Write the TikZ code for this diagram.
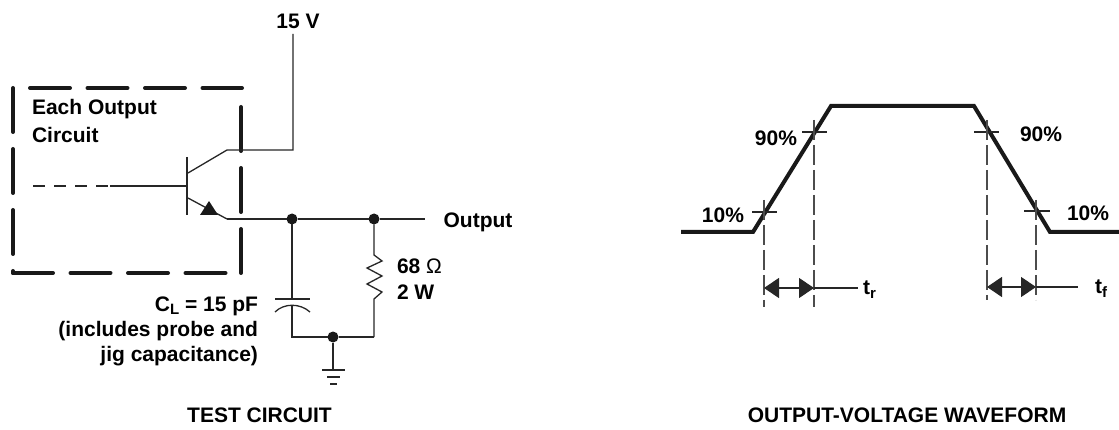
\documentclass[tikz,border=0pt]{standalone}
\usepackage{fontspec}
\setmainfont{Liberation Sans}
\usetikzlibrary{arrows.meta}
\begin{document}
\begin{tikzpicture}[x=1pt,y=-1pt,
  every node/.style={inner sep=0pt,outer sep=0pt,font=\fontsize{21}{26}\selectfont\bfseries},
  wire/.style={line width=1.3pt,black!85},
  boxdash/.style={line width=4pt,black!90,line cap=round},
  wave/.style={line width=4pt,black!90,line join=miter},
  guide/.style={line width=1.2pt,black!70,dash pattern=on 20pt off 5pt},
  tri/.style={{Triangle[length=15pt,width=20pt]}-{Triangle[length=15pt,width=20pt]}},
  dot/.style={circle,fill=black!90,minimum size=11pt,inner sep=0pt}]
\useasboundingbox (0,0) rectangle (1119,430);

% ---------- test circuit ----------
\node (v15) at (298,21) {15 V};
\node[align=left,anchor=west,font=\fontsize{21}{28}\selectfont\bfseries] (each) at (32,121) {Each Output\\Circuit};

% dashed box
\draw[boxdash,dash pattern=on 40pt off 17.5pt] (30,88) -- (242,88);
\draw[boxdash,dash pattern=on 44pt off 17pt] (241,107) -- (241,273);
\draw[boxdash,dash pattern=on 44pt off 17pt] (13,88) -- (13,273);
\draw[boxdash,dash pattern=on 40pt off 17.5pt] (13,273) -- (227,273);

% transistor
\coordinate (vtop) at (293,34);
\coordinate (ccorner) at (293,150);
\coordinate (ck) at (227,150);
\coordinate (cb) at (188,173);
\coordinate (eb) at (188,198);
\coordinate (ek) at (227,219);
\draw[wire] (187,157) -- (187,215);
\draw[wire] (vtop) -- (ccorner) -- (ck) -- (cb);
\draw[wire] (eb) -- (ek);
\fill[black!90] (209,201) -- (218,215) -- (200,215) -- cycle;
\draw[wire] (110,186) -- (187,186);
\draw[wire,dash pattern=on 12pt off 9pt] (33,186) -- (110,186);

% output line and junctions
\node[dot] (j1) at (292,219) {};
\node[dot] (j2) at (374,219) {};
\node (out) at (478,222) {Output};
\coordinate (oend) at (425,219);
\draw[wire] (ek) -- (j1) -- (j2) -- (oend);

% capacitor
\coordinate (ctop) at (292,299);
\coordinate (cbot) at (292,306);
\coordinate (gl) at (292,337);
\coordinate (gr) at (374,337);
\node[dot] (gj) at (333,337) {};
\draw[wire] (j1) -- (ctop);
\draw[wire] (275,299) -- (310,299);
\draw[wire] (275,312) .. controls (284,303) and (300,303) .. (310,312);
\draw[wire] (cbot) -- (gl) -- (gj) -- (gr);

% resistor
\draw[wire,line join=miter] (j2) -- (374,255) -- (382,261) -- (367,268) -- (382,276) -- (367,284) -- (382,292) -- (374,299) -- (gr);
\node[align=left,anchor=west] (rlab) at (397,279) {68 {\mdseries Ω}\\2 W};

% ground
\coordinate (g0) at (333,370);
\draw[wire] (gj) -- (g0);
\draw[wire] (322,370) -- (345,370);
\draw[wire] (327,377) -- (340,377);
\draw[wire] (330,384) -- (337,384);

\node[align=right,anchor=east,font=\fontsize{21}{25}\selectfont\bfseries] (cl) at (258,331)
  {C\raisebox{-0.3ex}{\fontsize{15}{15}\selectfont L} = 15 pF\\(includes probe and\\jig capacitance)};

\node (tc) at (259.5,415) {TEST CIRCUIT};

% ---------- waveform ----------
\draw[wave] (681,232) -- (753,232) -- (831,106) -- (974,106) -- (1050,232) -- (1119,232);

% ticks
\draw[wire] (752,212) -- (777,212);
\draw[wire] (802,132) -- (827,132);
\draw[wire] (974,132) -- (999,132);
\draw[wire] (1024,211) -- (1050,211);

\coordinate (r10t) at (764,200);
\coordinate (r90t) at (814,120);
\coordinate (f90t) at (987,120);
\coordinate (f10t) at (1036,200);
\coordinate (r10b) at (764,307);
\coordinate (r90b) at (814,307);
\coordinate (f90b) at (987,300);
\coordinate (f10b) at (1036,300);
\draw[guide] (r10t) -- (r10b);
\draw[guide] (r90t) -- (r90b);
\draw[guide] (f90t) -- (f90b);
\draw[guide] (f10t) -- (f10b);

\coordinate (ra) at (764,288);
\coordinate (rb) at (814,288);
\coordinate (rc) at (858,288);
\coordinate (fa) at (987,287);
\coordinate (fb) at (1036,287);
\coordinate (fc) at (1078,287);
\draw[wire,tri] (ra) -- (rb);
\draw[wire] (rb) -- (rc);
\draw[wire,tri] (fa) -- (fb);
\draw[wire] (fb) -- (fc);

\node[anchor=west] (tr) at (863,290) {t\raisebox{-0.35ex}{\fontsize{15}{15}\selectfont r}};
\node[anchor=west] (tf) at (1095,289) {t\raisebox{-0.35ex}{\fontsize{15}{15}\selectfont f}};

\node[anchor=east] (p90a) at (797,138) {90\%};
\node[anchor=east] (p10a) at (744,215) {10\%};
\node[anchor=west] (p90b) at (1020,134) {90\%};
\node[anchor=west] (p10b) at (1067,213) {10\%};

\node (ow) at (907,415) {OUTPUT-VOLTAGE WAVEFORM};
\end{tikzpicture}
\end{document}
